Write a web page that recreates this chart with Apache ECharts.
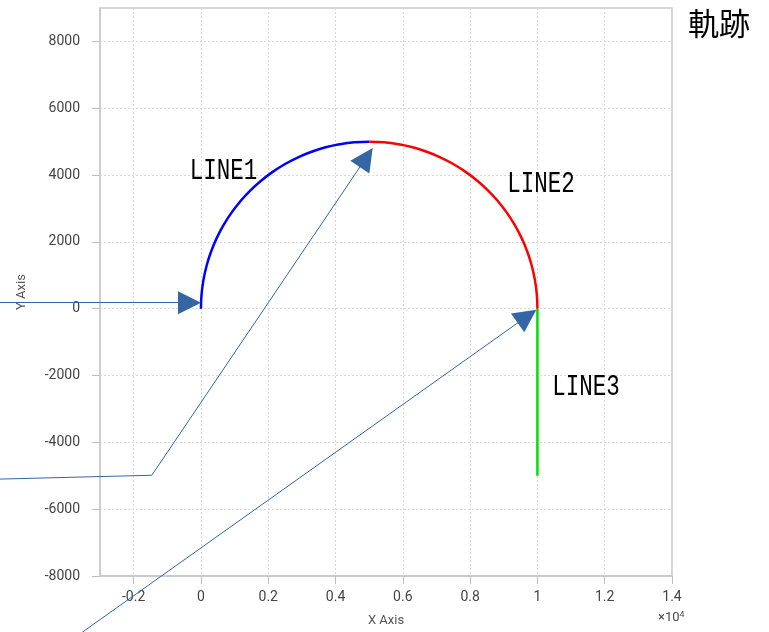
<!DOCTYPE html>
<html><head><meta charset="utf-8">
<script src="https://cdn.jsdelivr.net/npm/echarts@6/dist/echarts.min.js"></script>
<style>html,body{margin:0;padding:0;background:#fff}#c{width:769px;height:632px}</style>
</head><body><div id="c"></div>
<script>
// Data (x in raw units, axis labels shown in units of 10^4)
const line1 = [[0,0],[19,436],[76,868],[170,1294],[302,1710],[468,2113],[670,2500],[904,2868],[1170,3214],[1464,3536],[1786,3830],[2132,4096],[2500,4330],[2887,4532],[3290,4698],[3706,4830],[4132,4924],[4564,4981],[5000,5000]];
const line2 = [[5000,5000],[5436,4981],[5868,4924],[6294,4830],[6710,4698],[7113,4532],[7500,4330],[7868,4096],[8214,3830],[8536,3536],[8830,3214],[9096,2868],[9330,2500],[9532,2113],[9698,1710],[9830,1294],[9924,868],[9981,436],[10000,0]];
const line3 = [[10000,0],[10000,-5000]];
const arrow1 = [[-6000,180],[-340,180]];
const arrow2tail = [[-6000,-5100],[-1460,-4985]];
const arrow2 = [[-1460,-4985],[4913,4522]];
const arrow3 = [[-3550,-9700],[9690,-227]];
const xTicks = [-2000,0,2000,4000,6000,8000,10000,12000,14000];
const yTicks = [-8000,-6000,-4000,-2000,0,2000,4000,6000,8000];
const lineLabels = [
  {text:'LINE1', pos:[-330,4130]},
  {text:'LINE2', pos:[9100,3720]},
  {text:'LINE3', pos:[10440,-2360]}
];
const titleText = '軌跡';

const chart = echarts.init(document.getElementById('c'));
const axisCommon = {
  axisLine:{show:true,onZero:false,lineStyle:{color:'#c8c8c8',width:1.5}},
  axisTick:{show:true,inside:false,length:8,lineStyle:{color:'#bdbdbd'}},
  splitLine:{show:true,lineStyle:{color:'#d9d9d9',type:[2,2],width:1}},
};
const arrowStyle = {color:'#3465a4',width:1,opacity:1,curveness:0};
chart.setOption({
  animation:false,
  title:{text:titleText,left:683,top:3,textStyle:{fontSize:31,fontWeight:'normal',color:'#000',fontFamily:'Noto Sans CJK JP'}},
  grid:{left:100,right:97,top:8,bottom:55,show:true,borderColor:'#c8c8c8',borderWidth:1.5,containLabel:false},
  xAxis:Object.assign({}, axisCommon, {
    type:'value',min:-3000,max:14000,
    name:'X Axis',nameLocation:'middle',nameGap:38,
    nameTextStyle:{color:'#555',fontSize:13,fontFamily:'Roboto'},
    axisTick:Object.assign({},axisCommon.axisTick,{customValues:xTicks}),
    axisLabel:{customValues:xTicks,margin:14,color:'#444',fontSize:14,fontFamily:'Roboto',
      formatter:v=>String(Math.round(v/1000)/10)}
  }),
  yAxis:Object.assign({}, axisCommon, {
    type:'value',min:-8000,max:9000,
    name:'Y Axis',nameLocation:'middle',nameGap:72,nameRotate:90,
    nameTextStyle:{color:'#555',fontSize:13,fontFamily:'Roboto'},
    axisTick:Object.assign({},axisCommon.axisTick,{customValues:yTicks}),
    axisLabel:{customValues:yTicks,margin:20,color:'#444',fontSize:14,fontFamily:'Roboto',
      formatter:v=>String(v)}
  }),
  series:[
    {type:'line',data:line1,smooth:true,showSymbol:false,lineStyle:{color:'#0000ff',width:2.5},z:3},
    {type:'line',data:line2,smooth:true,showSymbol:false,lineStyle:{color:'#ff0000',width:2.5},z:3},
    {type:'line',data:line3,showSymbol:false,lineStyle:{color:'#00e000',width:2.5},z:3},
    {type:'lines',coordinateSystem:'cartesian2d',clip:false,z:5,
      symbol:['none','triangle'],symbolSize:[21,23],
      lineStyle:arrowStyle,itemStyle:{color:'#3465a4'},
      data:[{coords:arrow1},{coords:arrow2},{coords:arrow3}]},
    {type:'lines',coordinateSystem:'cartesian2d',clip:false,z:5,
      symbol:['none','none'],
      lineStyle:arrowStyle,
      data:[{coords:arrow2tail}]}
  ]
});
const g = lineLabels.map(l=>{
  const p = chart.convertToPixel({gridIndex:0}, l.pos);
  return {type:'text',x:p[0],y:p[1],scaleX:0.75,z:10,
    style:{text:l.text,font:'30px "Liberation Mono"',fill:'#000',verticalAlign:'middle',align:'left'}};
});
const pAx = chart.convertToPixel({gridIndex:0},[14000,-8000]);
g.push({type:'text',x:pAx[0]-14,y:pAx[1]+34,z:10,
  style:{text:'×10{s|4}',rich:{s:{fontSize:9,verticalAlign:'top',padding:[0,0,6,0],fill:'#444'}},font:'13px Roboto',fill:'#444'}});
chart.setOption({graphic:g});
</script></body></html>
